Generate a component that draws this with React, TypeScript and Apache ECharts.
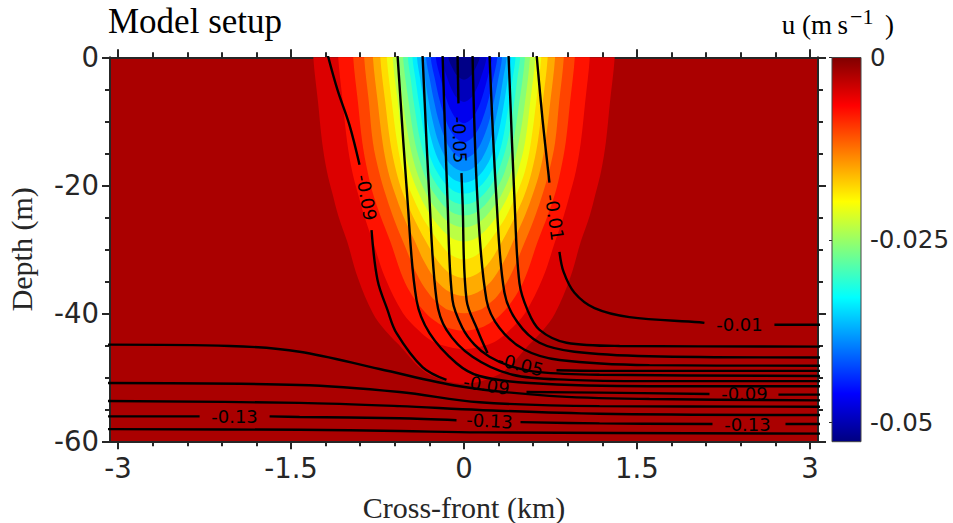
import React, { useEffect, useRef } from "react";
import * as echarts from "echarts";

// ---------- axes ----------
const xRange = [-3.07, 3.07];
const yRange = [-60, 0];
const xTickValues = [-3, -2.7, -2.4, -2.1, -1.8, -1.5, -1.2, -0.9, -0.6, -0.3, 0, 0.3, 0.6, 0.9, 1.2, 1.5, 1.8, 2.1, 2.4, 2.7, 3];
const xMajorValues = [-3, -1.5, 0, 1.5, 3];
const yTickValues = [0, -5, -10, -15, -20, -25, -30, -35, -40, -45, -50, -55, -60];
const yMajorValues = [0, -20, -40, -60];
const cbarTickValues = [0, -0.025, -0.05];
const uRange = [-0.0527, 0];

// ---------- filled contours of u (half-width km, depth m), outermost first ----------
const fillLevels = [-0.0026, -0.0053, -0.0079, -0.0105, -0.0132, -0.0158, -0.0184, -0.0211, -0.0237, -0.0264,
  -0.029, -0.0316, -0.0343, -0.0369, -0.0395, -0.0422, -0.0448, -0.0474, -0.0501];
const fillBoundaries = [
  [[1.307, 0], [1.266, -7], [1.23, -13.3], [1.189, -17.8], [1.141, -21.3], [1.091, -24.7], [1.013, -28.8], [0.92, -34.5], [0.79, -40], [0.683, -42.7], [0.529, -45.6], [0.395, -48.3], [0.26, -49.9], [0, -51]],
  [[1.091, 0], [1.051, -7], [1.013, -13.3], [0.97, -17.8], [0.92, -21.3], [0.866, -24.7], [0.79, -28.8], [0.683, -34.5], [0.529, -40], [0.392, -42.7], [0.289, -44.2], [0.186, -45], [0, -45.6]],
  [[0.961, 0], [0.92, -7], [0.882, -13.3], [0.837, -17.8], [0.79, -21.3], [0.726, -24.7], [0.639, -28.8], [0.529, -34.5], [0.447, -37.3], [0.33, -40], [0.238, -41.35], [0.15, -42.2], [0, -42.7]],
  [[0.866, 0], [0.825, -7], [0.79, -13.3], [0.738, -17.8], [0.683, -21.3], [0.619, -24.7], [0.529, -28.8], [0.392, -34.5], [0.289, -37.3], [0.207, -38.65], [0.133, -39.5], [0, -40]],
  [[0.79, 0], [0.748, -7], [0.706, -13.3], [0.658, -17.8], [0.599, -21.3], [0.529, -24.7], [0.425, -28.8], [0.355, -31.6], [0.258, -34.5], [0.186, -35.9], [0.12, -36.7], [0, -37.3]],
  [[0.726, 0], [0.683, -7], [0.639, -13.3], [0.588, -17.8], [0.529, -21.3], [0.447, -24.7], [0.33, -28.8], [0.237, -31.6], [0.17, -33.05], [0.108, -33.9], [0, -34.5]],
  [[0.67, 0], [0.626, -7], [0.58, -13.3], [0.529, -17.8], [0.457, -21.3], [0.369, -24.7], [0.305, -26.6], [0.22, -28.8], [0.157, -30.2], [0.1, -31.0], [0, -31.6]],
  [[0.619, 0], [0.574, -7], [0.529, -13.3], [0.467, -17.8], [0.392, -21.3], [0.345, -23.0], [0.289, -24.7], [0.207, -26.6], [0.148, -27.7], [0.093, -28.4], [0, -28.8]],
  [[0.572, 0], [0.529, -7], [0.474, -13.3], [0.411, -17.8], [0.33, -21.3], [0.271, -23.0], [0.196, -24.7], [0.14, -25.65], [0.088, -26.2], [0, -26.6]],
  [[0.529, 0], [0.48, -7], [0.425, -13.3], [0.355, -17.8], [0.312, -19.6], [0.258, -21.3], [0.186, -23.0], [0.133, -23.85], [0.084, -24.4], [0, -24.7]],
  [[0.487, 0], [0.461, -3.5], [0.436, -7], [0.376, -13.3], [0.298, -17.8], [0.247, -19.6], [0.177, -21.3], [0.127, -22.15], [0.08, -22.7], [0, -23.0]],
  [[0.447, 0], [0.42, -3.5], [0.392, -7], [0.362, -10.3], [0.33, -13.3], [0.289, -15.8], [0.237, -17.8], [0.17, -19.6], [0.12, -20.45], [0.077, -21.0], [0, -21.3]],
  [[0.408, 0], [0.379, -3.5], [0.349, -7], [0.316, -10.3], [0.276, -13.3], [0.228, -15.8], [0.163, -17.8], [0.116, -18.7], [0.073, -19.25], [0, -19.6]],
  [[0.369, 0], [0.338, -3.5], [0.305, -7], [0.267, -10.3], [0.22, -13.3], [0.157, -15.8], [0.112, -16.8], [0.07, -17.4], [0, -17.8]],
  [[0.33, 0], [0.296, -3.5], [0.258, -7], [0.213, -10.3], [0.15, -13.3], [0.108, -14.55], [0.068, -15.3], [0, -15.8]],
  [[0.289, 0], [0.251, -3.5], [0.207, -7], [0.148, -10.3], [0.105, -11.8], [0.066, -12.7], [0, -13.3]],
  [[0.245, 0], [0.2, -3.5], [0.144, -7], [0.103, -8.65], [0.064, -9.65], [0, -10.3]],
  [[0.196, 0], [0.14, -3.5], [0.1, -5.25], [0.063, -6.3], [0, -7]],
  [[0.136, 0], [0.098, -1.75], [0.062, -2.8], [0, -3.5]],
];

// ---------- black contour lines (x km, depth m); gaps where labels sit ----------
const contourLevels = [-0.01, -0.02, -0.03, -0.04, -0.05, -0.06, -0.07, -0.08, -0.09, -0.1, -0.11, -0.12, -0.13, -0.14];
const contourSegments = [
  [[[0.629, 0.5], [0.681, -9.7], [0.741, -19.6]],
   [[0.828, -30.4], [0.863, -33.5], [0.958, -36.8], [1.132, -39.2], [1.435, -40.6], [2.042, -41.4], [2.085, -41.5]],
   [[2.692, -41.8], [3.1, -41.8]]],
  [[[0.386, 0.5], [0.438, -22.3], [0.481, -35.3], [0.551, -39.5], [0.655, -42.6], [0.889, -44.6], [1.349, -45.1], [3.1, -45.2]]],
  [[[0.221, 0.5], [0.282, -22.3], [0.351, -36.8], [0.464, -41.4], [0.655, -44.6], [0.958, -46.0], [1.609, -46.7], [3.1, -46.9]]],
  [[[0.074, 0.5], [0.117, -22.3], [0.195, -37.9], [0.308, -42.3], [0.525, -45.7], [0.828, -47.3], [1.609, -48.1], [3.1, -48.2]]],
  [[[-0.056, 0.5], [-0.048, -7.2]],
   [[-0.022, -18.1], [-0.013, -22.3], [0.022, -37.9], [0.117, -42.6], [0.204, -46.2]],
   [[0.802, -48.9], [1.175, -49.0], [3.1, -49.0]]],
  [[[-0.186, 0.5], [-0.143, -22.3], [-0.1, -37.9], [-0.013, -42.3], [0.091, -44.9], [0.221, -46.8], [0.395, -48.2], [0.655, -49.2], [1.175, -49.6], [3.1, -49.8]]],
  [[[-0.36, 0.5], [-0.299, -22.3], [-0.238, -37.9], [-0.152, -42.6], [0.074, -46.8], [0.421, -49.6], [0.915, -50.4], [1.609, -50.6], [3.1, -50.6]]],
  [[[-0.577, 0.5], [-0.49, -22.3], [-0.412, -37.9], [-0.299, -43.1], [-0.065, -47.8], [0.134, -49.8], [0.568, -50.9], [1.609, -51.4], [3.1, -51.4]]],
  [[[-1.184, 0.5], [-1.097, -5.1], [-0.993, -10.6], [-0.906, -16.8]],
   [[-0.802, -27.0], [-0.75, -34.8], [-0.663, -39.5], [-0.585, -43.1], [-0.36, -48.4], [-0.152, -50.4]],
   [[0.542, -52.3], [1.175, -52.4], [2.129, -52.6]],
   [[2.727, -52.7], [3.1, -52.7]]],
  [[[-3.1, -44.9], [-2.033, -45.1], [-1.426, -46.0], [-0.733, -48.7], [-0.039, -51.4], [0.741, -52.9], [1.609, -53.4], [3.1, -53.6]]],
  [[[-3.1, -50.9], [-1.426, -51.2], [-0.559, -52.3], [0.134, -53.9], [1.175, -54.5], [3.1, -54.6]]],
  [[[-3.1, -53.7], [-1.426, -54.0], [-0.559, -54.5], [0.134, -55.1], [1.175, -55.7], [3.1, -55.9]]],
  [[[-3.1, -56.1], [-2.293, -56.1]],
   [[-1.686, -56.1], [-1.426, -56.2], [-0.559, -56.4], [-0.065, -56.7]],
   [[0.49, -57.0], [1.175, -57.2], [2.155, -57.3]],
   [[2.788, -57.3], [3.1, -57.3]]],
  [[[-3.1, -58.1], [-1.426, -58.2], [-0.559, -58.4], [0.134, -58.6], [3.1, -58.8]]],
];
// [x km, depth m, rotation deg (counter-clockwise), text]
const contourLabels = [
  [-0.845, -21.9, -80, "-0.09"],
  [-0.039, -12.9, -88, "-0.05"],
  [0.785, -25.0, -82, "-0.01"],
  [2.389, -41.8, 0, "-0.01"],
  [0.49, -48.0, -14, "-0.05"],
  [0.195, -51.2, -9, "-0.09"],
  [2.432, -52.6, 0, "-0.09"],
  [-1.99, -56.1, 0, "-0.13"],
  [0.221, -56.8, -3, "-0.13"],
  [2.458, -57.3, 0, "-0.13"],
];

// ---------- style helpers ----------
const AX = "#262626";
const SANS = "DejaVu Sans";
const SERIF = "Liberation Serif";

function clamp01(v: number) { return Math.max(0, Math.min(1, v)); }
function jet(f: number) {
  const r = clamp01(Math.min(4 * f - 1.5, -4 * f + 4.5));
  const g = clamp01(Math.min(4 * f - 0.5, -4 * f + 3.5));
  const b = clamp01(Math.min(4 * f + 0.5, -4 * f + 2.5));
  const h = (v: number) => Math.round(v * 255).toString(16).padStart(2, "0");
  return "#" + h(r) + h(g) + h(b);
}
// colour of the band lying just inside a level (mapped on the colour bar)
function bandColor(upperLevel: number) {
  const v = upperLevel - 0.0022;
  return jet((v - uRange[0]) / (uRange[1] - uRange[0]));
}
const jetStops = [0, 0.125, 0.375, 0.625, 0.875, 1].map((o) => ({ offset: o, color: jet(o) }));

function buildOption() {
  const xAxisBase = (position: string, ticks: number[], len: number, showLine: boolean, showLabel: boolean) => ({
    type: "value", gridIndex: 0, position, min: xRange[0], max: xRange[1],
    axisLine: { show: showLine, onZero: false, lineStyle: { color: AX, width: 2 } },
    axisTick: { show: true, customValues: ticks, length: len, lineStyle: { color: AX, width: 2 } },
    axisLabel: { show: showLabel, customValues: xMajorValues, fontFamily: SANS, fontSize: 27.5, color: AX, margin: 13 },
    splitLine: { show: false },
  });
  const yAxisBase = (position: string, ticks: number[], len: number, showLine: boolean, showLabel: boolean) => ({
    type: "value", gridIndex: 0, position, min: yRange[0], max: yRange[1],
    axisLine: { show: showLine, onZero: false, lineStyle: { color: AX, width: 2 } },
    axisTick: { show: true, customValues: ticks, length: len, lineStyle: { color: AX, width: 2 } },
    axisLabel: { show: showLabel, customValues: yMajorValues, fontFamily: SANS, fontSize: 27.5, color: AX, margin: 11 },
    splitLine: { show: false },
  });

  const xAxes: any[] = [
    { ...xAxisBase("bottom", xTickValues, 5, true, true),
      name: "Cross-front (km)", nameLocation: "middle", nameGap: 51,
      nameTextStyle: { fontFamily: SERIF, fontSize: 30, color: AX } },
    xAxisBase("bottom", xMajorValues, 8, false, false),
    xAxisBase("top", xTickValues, 5, true, false),
    xAxisBase("top", xMajorValues, 8, false, false),
    { type: "value", gridIndex: 1, min: 0, max: 1, show: false },
  ];
  const yAxes: any[] = [
    { ...yAxisBase("left", yTickValues, 5, true, true),
      name: "Depth (m)", nameLocation: "middle", nameGap: 74, nameRotate: 90,
      nameTextStyle: { fontFamily: SERIF, fontSize: 30, color: AX } },
    yAxisBase("left", yMajorValues, 8, false, false),
    yAxisBase("right", yTickValues, 5, true, false),
    yAxisBase("right", yMajorValues, 8, false, false),
    { type: "value", gridIndex: 1, position: "right", min: uRange[0], max: uRange[1],
      axisLine: { show: false },
      axisTick: { show: true, inside: true, customValues: cbarTickValues, length: 3, lineStyle: { color: AX, width: 1 } },
      axisLabel: { customValues: cbarTickValues, fontFamily: SANS, fontSize: 24.5, color: AX, margin: 9 },
      splitLine: { show: false } },
  ];

  const series: any[] = [];

  // filled contour bands
  series.push({
    type: "custom", xAxisIndex: 0, yAxisIndex: 0, clip: true, silent: true, z: 1,
    data: fillLevels.map((lv, i) => [i, lv]),
    renderItem: (params: any, api: any) => {
      const prof = fillBoundaries[params.dataIndex];
      const top = prof[0];
      const pts: number[][] = [];
      pts.push(api.coord([-top[0], 8]));
      pts.push(api.coord([-top[0], 4]));
      for (let i = 0; i < prof.length; i++) pts.push(api.coord([-prof[i][0], prof[i][1]]));
      for (let i = prof.length - 2; i >= 0; i--) pts.push(api.coord([prof[i][0], prof[i][1]]));
      pts.push(api.coord([top[0], 4]));
      pts.push(api.coord([top[0], 8]));
      return {
        type: "polygon",
        shape: { points: pts, smooth: 0.35 },
        style: { fill: bandColor(fillLevels[params.dataIndex]), stroke: null },
      };
    },
  });

  // contour lines
  contourSegments.forEach((segs, li) => {
    segs.forEach((seg) => {
      series.push({
        type: "line", xAxisIndex: 0, yAxisIndex: 0, name: String(contourLevels[li]),
        data: seg, showSymbol: false, symbol: "none", smooth: 0.35, silent: true, z: 3,
        lineStyle: { color: "#000", width: 2.4 }, animation: false,
      });
    });
  });

  // contour labels
  series.push({
    type: "custom", xAxisIndex: 0, yAxisIndex: 0, silent: true, z: 4,
    data: contourLabels.map((l) => [l[0], l[1]]),
    renderItem: (params: any, api: any) => {
      const lab = contourLabels[params.dataIndex];
      const p = api.coord([lab[0], lab[1]]);
      return {
        type: "text", x: p[0], y: p[1], rotation: ((lab[2] as number) * Math.PI) / 180,
        style: { text: lab[3], fontFamily: SANS, fontSize: 18, fill: "#000", align: "center", verticalAlign: "middle" },
      };
    },
  });

  // colour bar
  series.push({
    type: "custom", xAxisIndex: 4, yAxisIndex: 4, silent: true, z: 2,
    data: [[0.5, uRange[0]]],
    renderItem: (params: any) => {
      const cs = params.coordSys;
      return {
        type: "rect",
        shape: { x: cs.x, y: cs.y, width: cs.width, height: cs.height },
        style: { fill: new echarts.graphic.LinearGradient(0, 1, 0, 0, jetStops), stroke: "#444", lineWidth: 1 },
      };
    },
  });

  return {
    animation: false,
    backgroundColor: "#ffffff",
    grid: [
      { left: 110, top: 57.3, width: 708, height: 384, show: true, backgroundColor: bandColor(0), borderWidth: 0,
        containLabel: false, outerBoundsMode: "none" },
      { left: 832, top: 57.5, width: 29, height: 384.2, show: false, containLabel: false, outerBoundsMode: "none" },
    ],
    xAxis: xAxes,
    yAxis: yAxes,
    series,
    graphic: [
      { type: "text", left: 108, top: 4, style: { text: "Model setup", fontFamily: SERIF, fontSize: 35, fill: "#000" } },
      { type: "text", x: 848, y: 38, style: { text: "u (m\u2009s", fontFamily: SERIF, fontSize: 27, fill: "#000", align: "right", verticalAlign: "bottom" } },
      { type: "text", x: 850, y: 27, style: { text: "\u22121", fontFamily: SERIF, fontSize: 22, fill: "#000", align: "left", verticalAlign: "bottom" } },
      { type: "text", x: 885, y: 38, style: { text: ")", fontFamily: SERIF, fontSize: 27, fill: "#000", align: "left", verticalAlign: "bottom" } },
    ],
  };
}

export default function App() {
  const ref = useRef<HTMLDivElement>(null);
  useEffect(() => {
    if (!ref.current) return;
    const chart = echarts.init(ref.current, undefined, { renderer: "svg" });
    chart.setOption(buildOption() as any);
    return () => chart.dispose();
  }, []);
  return <div ref={ref} style={{ position: "fixed", left: 0, top: 0, width: 953, height: 523, background: "#fff" }} />;
}
